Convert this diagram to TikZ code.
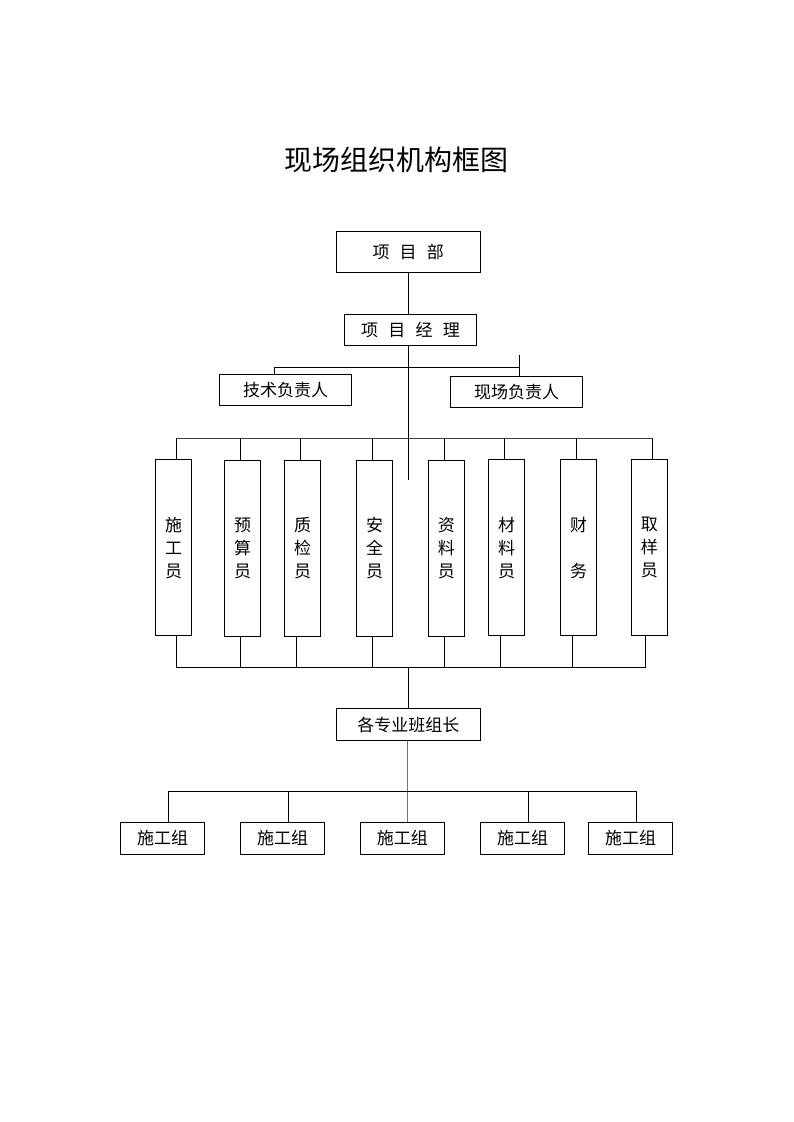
\documentclass[tikz,border=0pt]{standalone}
\usepackage{fontspec}
\newfontfamily\cjk{Noto Sans CJK SC}
\tikzset{
  box/.style={draw,line width=0.9pt,inner sep=0pt,font=\cjk\fontsize{17}{23}\selectfont},
  widebox/.style={box,minimum width=132.4pt,minimum height=31pt},
  tallbox/.style={box,minimum width=36.4pt,minimum height=176pt,align=center},
  groupbox/.style={box,minimum width=84.4pt,minimum height=32pt},
  link/.style={line width=0.9pt},
}
\begin{document}
\begin{tikzpicture}[x=1pt,y=-1pt]
\useasboundingbox (0,0) rectangle (793,1122);
% title
\node (title) at (396,160) {\cjk\fontsize{28}{34}\selectfont 现场组织机构框图};
% project level
\node[box,minimum width=143.7pt,minimum height=40.7pt] (xmb) at (408.2,252) {项\hspace{0.6em}目\hspace{0.6em}部};
\node[widebox] (jl) at (410.5,330) {项\hspace{0.6em}目\hspace{0.6em}经\hspace{0.6em}理};
\node[widebox] (js) at (285.5,390.3) {技术负责人};
\node[widebox] (xc) at (516.7,391.8) {现场负责人};
% staff
\node[tallbox] (sg) at (173.5,547.8) {施\\工\\员};
\node[tallbox] (ys) at (242.5,548.5) {预\\算\\员};
\node[tallbox] (zj) at (302.5,548.5) {质\\检\\员};
\node[tallbox] (aq) at (374.5,548) {安\\全\\员};
\node[tallbox] (zl) at (446.3,548.3) {资\\料\\员};
\node[tallbox] (cl) at (506.5,547.8) {材\\料\\员};
\node[tallbox] (cw) at (578.5,547.8) {财\\\strut\\务};
\node[tallbox] (qy) at (649.3,547.8) {取\\样\\员};
% team leaders and groups
\node[box,minimum width=144pt,minimum height=31.6pt] (gz) at (408.3,724.5) {各专业班组长};
\node[groupbox] (g1) at (162.5,838.3) {施工组};
\node[groupbox] (g2) at (282.5,838.3) {施工组};
\node[groupbox] (g3) at (402.3,838.3) {施工组};
\node[groupbox] (g4) at (522.5,838.3) {施工组};
\node[groupbox] (g5) at (630.5,838.3) {施工组};

% upper connectors
\draw[link] (xmb.south) -- (xmb.south |- jl.north);
\coordinate (mid) at (408,480);
\draw[link] (mid |- jl.south) -- (mid);
\coordinate (busL) at (274,367);
\coordinate (busR) at (519.3,367);
\coordinate (xcTop) at (519.3,355);
\draw[link] (busL |- js.north) -- (busL) -- (busR);
\draw[link] (xcTop) -- (xcTop |- xc.north);

% staff buses
\coordinate (tbL) at (176,438.3);
\coordinate (tbR) at (652.3,438.3);
\draw[link,black!75] (tbL) -- (tbR);
\foreach \n/\x in {sg/176,ys/240.3,zj/300.3,aq/372.3,zl/444.3,cl/504.7,cw/576.7,qy/652.3}{
  \coordinate (t\n) at (\x,438.3);
  \draw[link] (t\n) -- (t\n |- \n.north);
}
\coordinate (bbL) at (176,667.3);
\coordinate (bbR) at (645.7,667.3);
\draw[link] (bbL) -- (bbR);
\foreach \n/\x in {sg/176,ys/240.3,zj/296.3,aq/372.3,zl/444.3,cl/500.3,cw/572.3,qy/645.7}{
  \coordinate (b\n) at (\x,667.3);
  \draw[link] (b\n |- \n.south) -- (b\n);
}
\coordinate (bbM) at (408.3,667.3);
\draw[link] (bbM) -- (bbM |- gz.north);

% group bus
\coordinate (gbus) at (407.3,791.3);
\draw[link,black!55] (gbus |- gz.south) -- (gbus |- g3.north);
\draw[link] (168.3,791.3) coordinate (gbL) -- (636.3,791.3) coordinate (gbR);
\foreach \n/\x in {g1/168.3,g2/288.3,g4/528.3,g5/636.3}{
  \coordinate (c\n) at (\x,791.3);
  \draw[link] (c\n) -- (c\n |- \n.north);
}
\end{tikzpicture}
\end{document}
